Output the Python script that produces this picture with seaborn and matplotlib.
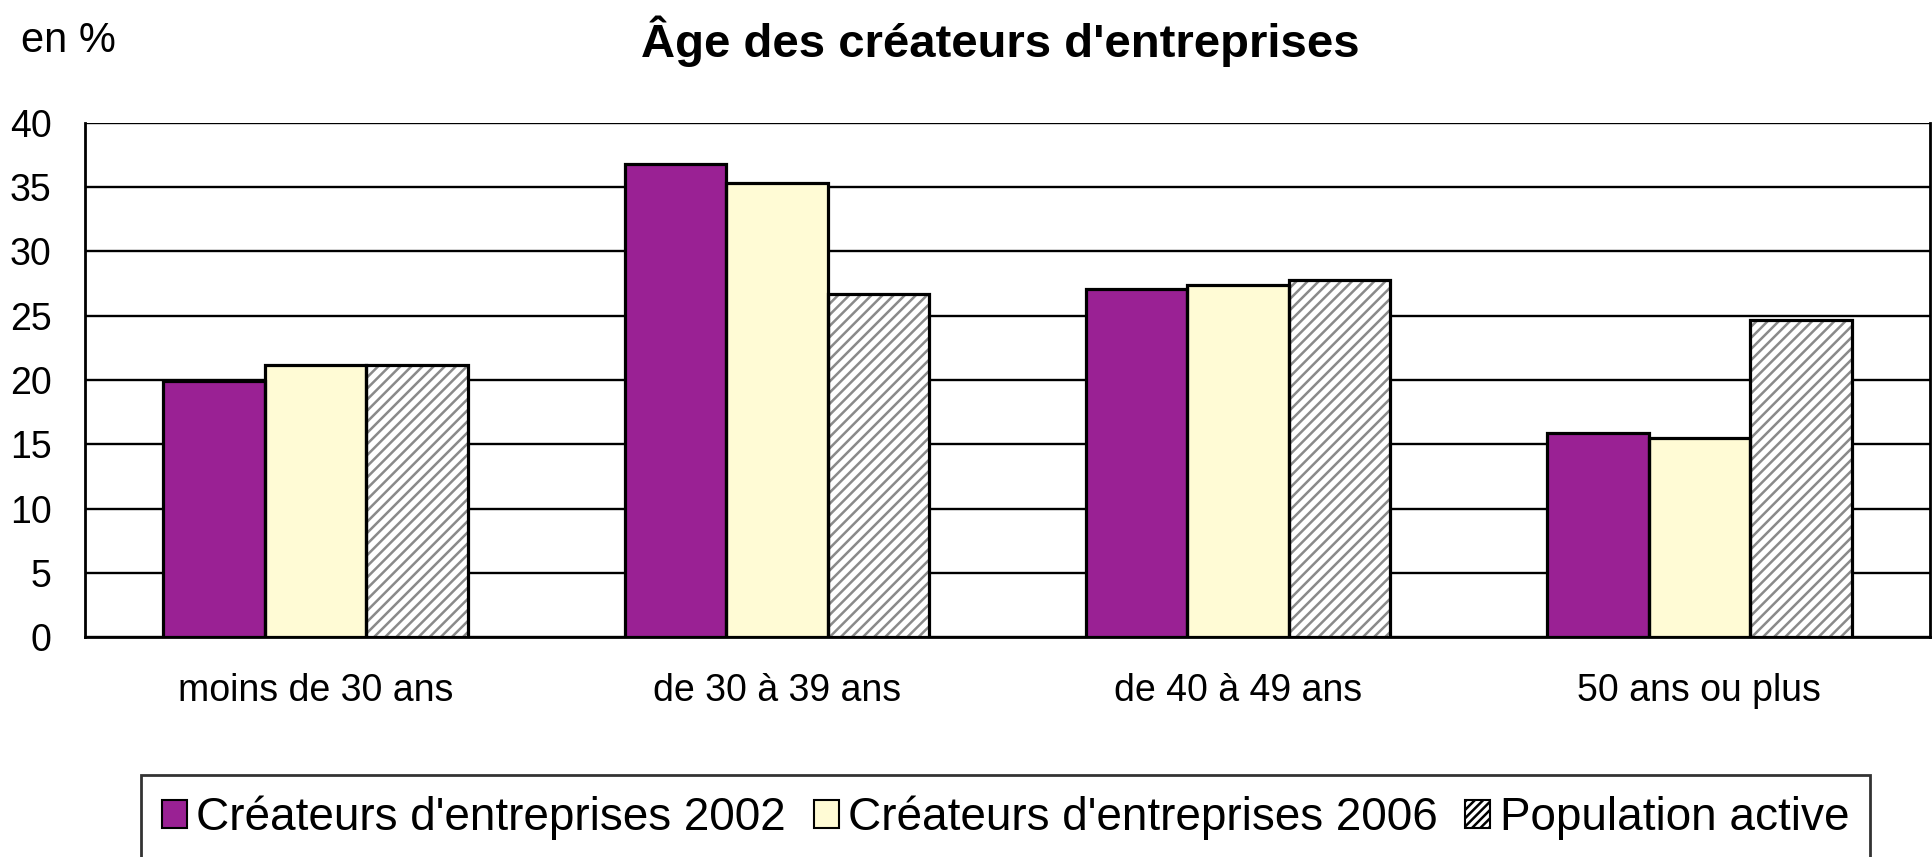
import matplotlib
matplotlib.use("Agg")
import matplotlib.pyplot as plt
from matplotlib.patches import Patch
import seaborn as sns
import pandas as pd

categories = ["moins de 30 ans", "de 30 à 39 ans", "de 40 à 49 ans", "50 ans ou plus"]
series_names = ["Créateurs d'entreprises 2002", "Créateurs d'entreprises 2006", "Population active"]
createurs_2002 = [19.9, 36.8, 27.1, 15.9]
createurs_2006 = [21.2, 35.3, 27.4, 15.5]
population_active = [21.2, 26.7, 27.8, 24.7]
y_ticks = [0, 5, 10, 15, 20, 25, 30, 35, 40]

colors = ["#9A2194", "#FFFBD5", "#FFFFFF"]

rows = []
for name, vals in zip(series_names, [createurs_2002, createurs_2006, population_active]):
    for c, v in zip(categories, vals):
        rows.append({"cat": c, "serie": name, "val": v})
df = pd.DataFrame(rows)

sns.set_style("white")
plt.rcParams['font.family'] = ['Liberation Sans', 'DejaVu Sans']
plt.rcParams['hatch.linewidth'] = 1.8
plt.rcParams['text.color'] = 'black'
plt.rcParams['xtick.color'] = 'black'
plt.rcParams['ytick.color'] = 'black'
plt.rcParams['xtick.labelcolor'] = 'black'
plt.rcParams['ytick.labelcolor'] = 'black'

fig = plt.figure(figsize=(19.32, 8.57), dpi=100)
ax = fig.add_axes([0.044, 0.2567, 0.955, 0.5998])

sns.barplot(data=df, x="cat", y="val", hue="serie", order=categories,
            hue_order=series_names, palette=colors, saturation=1, width=0.66,
            edgecolor="#808080", linewidth=0, legend=False, ax=ax, zorder=3)
for p in ax.containers[2]:
    p.set_hatch("///")
    p.set_edgecolor("#8a8a8a")
    p.set_linewidth(0)

sns.barplot(data=df, x="cat", y="val", hue="serie", order=categories,
            hue_order=series_names, palette=["black"] * 3, saturation=1, width=0.66,
            fill=False, linewidth=2.3, legend=False, ax=ax, zorder=4)

ax.set_ylim(0, 40)
ax.set_xlim(-0.5, 3.5)
ax.set_yticks(y_ticks)
ax.set_yticklabels([str(t) for t in y_ticks], fontsize=27)
ax.yaxis.grid(True, color="black", linewidth=1.7)
ax.set_axisbelow(True)
ax.tick_params(axis="y", length=12, width=1.7, color="black", pad=12)
ax.set_xticks(range(len(categories)))
ax.set_xticklabels(categories, fontsize=27)
ax.set_xticks([0.5, 1.5, 2.5, 3.5], minor=True)
ax.tick_params(axis="x", which="major", length=0, pad=26)
ax.tick_params(axis="x", which="minor", length=10, width=1.7, color="black")
ax.set_xlabel("")
ax.set_ylabel("")
for s in ["left", "bottom", "right"]:
    ax.spines[s].set_color("black")
    ax.spines[s].set_linewidth(2)
ax.spines["top"].set_visible(False)

fig.text(0.011, 0.952, "en %", fontsize=30, ha="left", va="center")
fig.text(0.518, 0.952, "Âge des créateurs d'entreprises", fontsize=34,
         fontweight="bold", ha="center", va="center")

handles = [Patch(facecolor=colors[0], edgecolor="black", linewidth=1.5),
           Patch(facecolor=colors[1], edgecolor="black", linewidth=1.5),
           Patch(facecolor=colors[2], edgecolor="black", linewidth=1.5, hatch="////")]
leg = fig.legend(handles, series_names, loc="center", bbox_to_anchor=(0.5205, 0.0455),
                 ncol=3, fontsize=33, frameon=True, fancybox=False,
                 handlelength=0.55, handleheight=0.55, handletextpad=0.2,
                 columnspacing=0.6, borderpad=0.45, borderaxespad=0)
leg.get_frame().set_edgecolor("black")
leg.get_frame().set_linewidth(2)

fig.savefig("out.png", dpi=100)
